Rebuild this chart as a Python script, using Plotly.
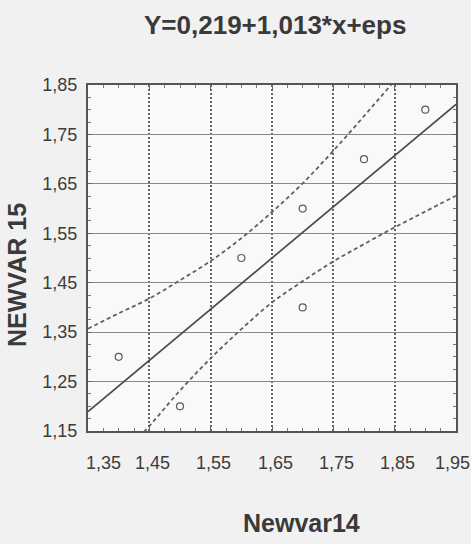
import plotly.graph_objects as go

# ---- data ----
newvar14 = [1.40, 1.50, 1.60, 1.70, 1.70, 1.80, 1.90]
newvar15 = [1.30, 1.20, 1.50, 1.60, 1.40, 1.70, 1.80]

fit_x = [1.35, 1.95]
fit_y = [1.189, 1.811]

band_x = [1.35, 1.40, 1.45, 1.50, 1.55, 1.60, 1.65, 1.70, 1.75, 1.80, 1.85, 1.90, 1.95]
band_upper = [1.357, 1.388, 1.418, 1.455, 1.494, 1.540, 1.593, 1.651, 1.717, 1.787, 1.859, 1.932, 2.006]
band_lower = [1.021, 1.094, 1.160, 1.232, 1.297, 1.356, 1.410, 1.453, 1.493, 1.528, 1.562, 1.594, 1.626]

x_ticks = [1.35, 1.45, 1.55, 1.65, 1.75, 1.85, 1.95]
x_ticklabels = ["1,35", "1,45", "1,55", "1,65", "1,75", "1,85", "1,95"]
y_ticks = [1.15, 1.25, 1.35, 1.45, 1.55, 1.65, 1.75, 1.85]
y_ticklabels = ["1,15", "1,25", "1,35", "1,45", "1,55", "1,65", "1,75", "1,85"]

title_text = "Y=0,219+1,013*x+eps"
x_title = "Newvar14"
y_title = "NEWVAR 15"

# ---- styling ----
tick_font = dict(family="Liberation Sans, Arial, Helvetica", size=18, color="#3c3c3c")
title_font = dict(family="Liberation Sans, Arial, Helvetica", size=26, color="#3a3a3a")
axis_title_font = dict(family="Liberation Sans, Arial, Helvetica", size=25, color="#3a3a3a")
band_dash = "4px,3px"

fig = go.Figure()
fig.add_trace(go.Scatter(x=band_x, y=band_upper, mode="lines", line=dict(color="#606060", width=1.8, dash=band_dash, shape="spline"), hoverinfo="skip"))
fig.add_trace(go.Scatter(x=band_x, y=band_lower, mode="lines", line=dict(color="#606060", width=1.8, dash=band_dash, shape="spline"), hoverinfo="skip"))
fig.add_trace(go.Scatter(x=fit_x, y=fit_y, mode="lines", line=dict(color="#4a4a4a", width=1.7)))
fig.add_trace(go.Scatter(x=newvar14, y=newvar15, mode="markers",
                         marker=dict(symbol="circle-open", size=7, color="#5a5a5a", line=dict(width=1.2, color="#5a5a5a"))))

fig.update_layout(
    width=471, height=544,
    margin=dict(l=88, r=15, t=85, b=113),
    paper_bgcolor="#f1f1f1",
    plot_bgcolor="#f9f9f9",
    showlegend=False,
)

fig.update_xaxes(
    range=[1.35, 1.95], tickmode="array", tickvals=x_ticks, showticklabels=False,
    showgrid=True, gridcolor="#666666", gridwidth=1.6, griddash="2px,2px",
    showline=True, linecolor="#555555", linewidth=2, mirror="ticks",
    ticks="inside", ticklen=4, tickcolor="#666666",
    minor=dict(ticks="inside", ticklen=3, tickcolor="#777777", tick0=1.35, dtick=0.025, showgrid=False),
    zeroline=False,
)
fig.update_yaxes(
    range=[1.15, 1.85], tickmode="array", tickvals=y_ticks, ticktext=y_ticklabels,
    tickfont=tick_font, ticklabelstandoff=5,
    showgrid=True, gridcolor="#8a8a8a", gridwidth=1.4,
    showline=True, linecolor="#555555", linewidth=2, mirror="ticks",
    ticks="inside", ticklen=4, tickcolor="#666666",
    minor=dict(ticks="inside", ticklen=3, tickcolor="#777777", tick0=1.15, dtick=0.025, showgrid=False),
    zeroline=False,
)

# x tick labels (edge labels pulled inward as in the original)
label_shift = {0: 15, len(x_ticks) - 1: -4}
for i, (v, t) in enumerate(zip(x_ticks, x_ticklabels)):
    fig.add_annotation(x=v, xref="x", y=0, yref="paper", text=t, showarrow=False,
                       font=tick_font, xanchor="center", yanchor="middle",
                       xshift=label_shift.get(i, 3), yshift=-32)

fig.add_annotation(x=0.5, xref="paper", y=1, yref="paper", text="<b>%s</b>" % title_text,
                   showarrow=False, font=title_font, xanchor="center", yanchor="middle", xshift=3, yshift=60)
fig.add_annotation(x=0.579, xref="paper", y=0, yref="paper", text="<b>%s</b>" % x_title,
                   showarrow=False, font=axis_title_font, xanchor="center", yanchor="middle", yshift=-92)
fig.add_annotation(x=0, xref="paper", y=0.451, yref="paper", text="<b>%s</b>" % y_title,
                   showarrow=False, font=axis_title_font, textangle=-90, xanchor="center", yanchor="middle", xshift=-71)

fig.write_html("out.html", config={"displayModeBar": False},
               post_script="document.body.style.margin='0';document.body.style.background='#f1f1f1';")
